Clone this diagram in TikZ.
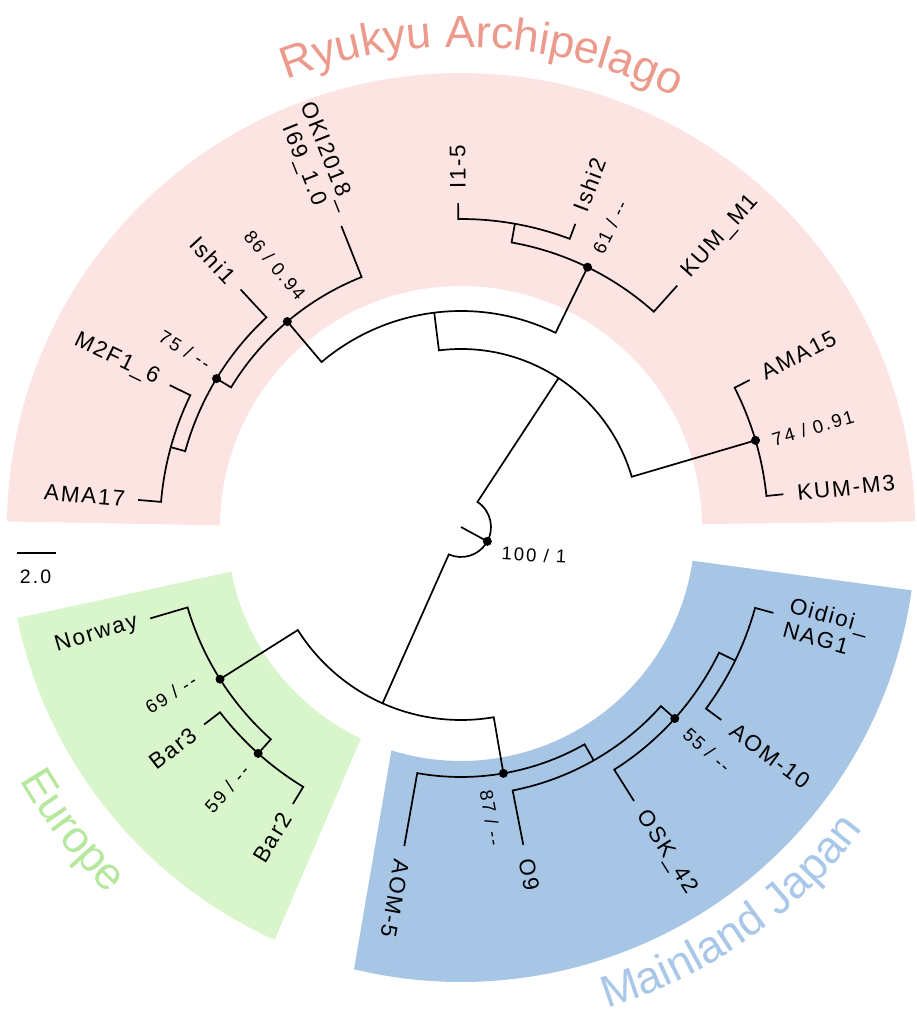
\documentclass[tikz,border=0pt]{standalone}
\usepackage{fontspec}
\setmainfont{Liberation Sans}
\newfontfamily\leaffont[LetterSpace=8]{Liberation Sans}
\newfontfamily\numfont[LetterSpace=11]{Liberation Sans}
\usetikzlibrary{decorations.text}
\definecolor{pinkfill}{HTML}{FCE4E2}
\definecolor{ryutext}{HTML}{EC9A8C}
\definecolor{greenfill}{HTML}{D8F5CB}
\definecolor{greentext}{HTML}{B5E89C}
\definecolor{bluefill}{HTML}{A7C5E5}
\definecolor{bluetext}{HTML}{A9C7E8}
\tikzset{
  br/.style={line width=1.7pt, line join=miter},
  dotn/.style={circle, fill=black, inner sep=0pt, minimum size=9pt},
  leafW/.style={font=\leaffont\fontsize{22.5}{25.5}\selectfont, inner sep=0pt, anchor=west, align=left},
  leafE/.style={font=\leaffont\fontsize{22.5}{25.5}\selectfont, inner sep=0pt, anchor=east, align=center},
  supp/.style={font=\numfont\fontsize{18.5}{21}\selectfont, inner sep=0pt},
}
\begin{document}
\begin{tikzpicture}[x=1pt,y=1pt]
\useasboundingbox (-461,-490) rectangle (456,527);
% group sectors
\fill[pinkfill] (0.7:241pt) -- (0.7:454pt) arc[start angle=0.7, end angle=179.3, radius=454pt]
  -- (179.6:241pt) arc[start angle=179.6, end angle=0.7, radius=241pt] -- cycle;
\fill[greenfill] (191:234pt) -- (191.6:453pt) arc[start angle=191.6, end angle=245.7, radius=453pt]
  -- (244.7:234pt) arc[start angle=244.7, end angle=191, radius=234pt] -- cycle;
\fill[bluefill] (-107.3:234pt) -- (-103.6:455pt) arc[start angle=-103.6, end angle=-8, radius=455pt]
  -- (-8.3:234pt) arc[start angle=-8.3, end angle=-107.3, radius=234pt] -- cycle;
% group titles
\path[decorate, decoration={text along path, text align=center,
  text={|\fontsize{45}{45}\selectfont\color{ryutext}|Ryukyu Archipelago}}]
  (137.4:480pt) arc[start angle=137.4, end angle=37.4, radius=480pt];
\path[decorate, decoration={text along path, text align=center,
  text={|\fontsize{45}{45}\selectfont\color{greentext}|Europe}}]
  (188:509pt) arc[start angle=188, end angle=248, radius=509pt];
\path[decorate, decoration={text along path, text align=center,
  text={|\fontsize{45}{45}\selectfont\color{bluetext}|Mainland Japan}}]
  (-100:503pt) arc[start angle=-100, end angle=-10, radius=503pt];
% tree
\coordinate (ctr) at (0,0);
\draw[br] (ctr) -- (-28.61:30pt);
\draw[br] (56.76:178pt) -- (56.76:30pt) arc[start angle=56.76, end angle=-113.98, radius=30pt] -- (-113.98:193pt);
\draw[br] (16.39:307pt) -- (16.39:178pt) arc[start angle=16.39, end angle=97.12, radius=178pt] -- (97.12:216pt);
\draw[br] (64.03:289pt) -- (64.03:216pt) arc[start angle=64.03, end angle=130.21, radius=216pt] -- (130.21:269pt);
\draw[br] (5.8:324pt) -- (5.8:307pt) arc[start angle=5.8, end angle=26.98, radius=307pt] -- (26.98:324pt);
\draw[br] (48.15:324pt) -- (48.15:289pt) arc[start angle=48.15, end angle=79.92, radius=289pt] -- (79.92:308pt);
\draw[br] (69.33:324pt) -- (69.33:308pt) arc[start angle=69.33, end angle=90.51, radius=308pt] -- (90.51:324pt);
\draw[br] (111.68:324pt) -- (111.68:269pt) arc[start angle=111.68, end angle=148.74, radius=269pt] -- (148.74:286pt);
\draw[br] (132.86:324pt) -- (132.86:286pt) arc[start angle=132.86, end angle=164.62, radius=286pt] -- (164.62:301pt);
\draw[br] (154.04:324pt) -- (154.04:301pt) arc[start angle=154.04, end angle=175.21, radius=301pt] -- (175.21:324pt);
\draw[br] (212.27:285pt) -- (212.27:193pt) arc[start angle=212.27, end angle=279.77, radius=193pt] -- (279.77:250pt);
\draw[br] (196.39:324pt) -- (196.39:285pt) arc[start angle=196.39, end angle=228.15, radius=285pt] -- (228.15:304pt);
\draw[br] (217.56:324pt) -- (217.56:304pt) arc[start angle=217.56, end angle=238.74, radius=304pt] -- (238.74:324pt);
\draw[br] (259.92:324pt) -- (259.92:250pt) arc[start angle=259.92, end angle=299.62, radius=250pt] -- (299.62:268.5pt);
\draw[br] (281.09:324pt) -- (281.09:268.5pt) arc[start angle=281.09, end angle=318.15, radius=268.5pt] -- (318.15:287pt);
\draw[br] (302.27:324pt) -- (302.27:287pt) arc[start angle=302.27, end angle=334.03, radius=287pt] -- (334.03:305pt);
\draw[br] (323.45:324pt) -- (323.45:305pt) arc[start angle=323.45, end angle=344.62, radius=305pt] -- (344.62:324pt);
% support dots
\node[dotn] (root) at (-28.61:30pt) {};
\node[dotn] (nP) at (130.21:269pt) {};
\node[dotn] (nQ) at (148.74:286pt) {};
\node[dotn] (nR) at (64.03:289pt) {};
\node[dotn] (nT) at (16.39:307pt) {};
\node[dotn] (nE1) at (212.27:285pt) {};
\node[dotn] (nE2) at (228.15:304pt) {};
\node[dotn] (nJ1) at (279.77:250pt) {};
\node[dotn] (nJ3) at (318.15:287pt) {};
% support labels
\node[supp, rotate=-3] (lroot) at (73,-28) {100 / 1};
\node[supp, rotate=-49.8] (lP) at (-186,262) {86 / 0.94};
\node[supp, rotate=-31.3] (lQ) at (-276,177) {75 / -{}-};
\node[supp, rotate=64] (lR) at (149,300) {61 / -{}-};
\node[supp, rotate=16.4] (lT) at (352,99) {74 / 0.91};
\node[supp, rotate=32.3] (lE1) at (-290,-167) {69 / -{}-};
\node[supp, rotate=48.2] (lE2) at (-234,-262) {59 / -{}-};
\node[supp, rotate=-80.2] (lJ1) at (30,-291) {87 / -{}-};
\node[supp, rotate=-41.8] (lJ3) at (246,-223) {55 / -{}-};
% leaf labels
\node[leafW, rotate=5.8] (kumm3) at (5.8:338pt) {KUM-M3};
\node[leafW, rotate=26.98] (ama15) at (26.98:338pt) {AMA15};
\node[leafW, rotate=48.15] (kumm1) at (48.15:338pt) {KUM\_M1};
\node[leafW, rotate=69.33] (ishi2) at (69.33:338pt) {Ishi2};
\node[leafW, rotate=90.51] (i15) at (90.51:338pt) {I1-5};
\node[leafE, rotate=-68.32] (oki) at (111.68:337pt) {OKI2018\_\\I69\_1.0};
\node[leafE, rotate=-47.14] (ishi1) at (132.86:337pt) {Ishi1};
\node[leafE, rotate=-25.96] (m2f1) at (154.04:337pt) {M2F1\_6};
\node[leafE, rotate=-4.79] (ama17) at (175.21:337pt) {AMA17};
\node[leafE, rotate=16.39] (norway) at (196.39:337pt) {Norway};
\node[leafE, rotate=37.56] (bar3) at (217.56:337pt) {Bar3};
\node[leafE, rotate=58.74] (bar2) at (238.74:337pt) {Bar2};
\node[leafW, rotate=259.92] (aom5) at (259.92:338pt) {AOM-5};
\node[leafW, rotate=281.09] (o9) at (281.09:338pt) {O9};
\node[leafW, rotate=302.27] (osk) at (302.27:338pt) {OSK\_42};
\node[leafW, rotate=323.45] (aom10) at (323.45:338pt) {AOM-10};
\node[leafW, rotate=344.62] (oid) at (344.62:338pt) {Oidioi\_\\NAG1};
% scale bar
\coordinate (sb1) at (-444,-26);
\coordinate (sb2) at (-405,-26);
\draw[line width=1.7pt] (sb1) -- (sb2);
\node[font=\numfont\fontsize{19.5}{22}\selectfont, inner sep=0pt] (sbl) at (-425.5,-50) {2.0};
\end{tikzpicture}
\end{document}
